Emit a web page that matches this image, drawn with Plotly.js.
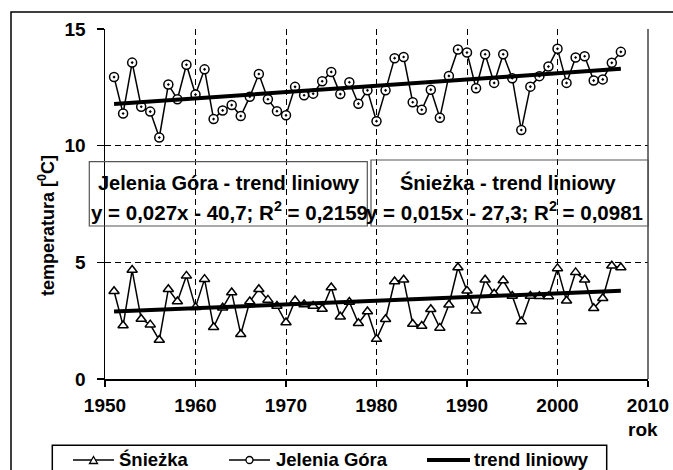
<!DOCTYPE html>
<html>
<head>
<meta charset="utf-8">
<script src="https://cdn.plot.ly/plotly-3.0.1.min.js"></script>
<style>html,body{margin:0;padding:0;background:#fff;}#chart{width:673px;height:470px;}</style>
</head>
<body>
<div id="chart"></div>
<script>
// ---- data ----
const years = [];
for (let y = 1951; y <= 2007; y++) years.push(y);
const jeleniaGora = [12.94, 11.38, 13.56, 11.67, 11.46, 10.35, 12.62, 11.99, 13.47, 12.19,
  13.27, 11.14, 11.51, 11.74, 11.27, 12.10, 13.07, 11.99, 11.48, 11.30,
  12.52, 12.16, 12.23, 12.76, 13.16, 12.21, 12.72, 11.80, 12.37, 11.05,
  12.37, 13.75, 13.80, 11.86, 11.54, 12.40, 11.20, 12.99, 14.12, 13.99,
  12.46, 13.92, 12.69, 13.92, 12.89, 10.67, 12.53, 12.98, 13.39, 14.15,
  12.69, 13.78, 13.83, 12.79, 12.84, 13.55, 14.02];
const sniezka = [3.76, 2.29, 4.67, 2.57, 2.33, 1.67, 3.85, 3.32, 4.42, 3.07,
  4.28, 2.22, 3.05, 3.71, 1.92, 3.32, 3.85, 3.39, 3.13, 2.42,
  3.36, 3.19, 3.13, 3.00, 3.92, 2.67, 3.30, 2.39, 2.89, 1.71,
  2.56, 4.18, 4.25, 2.36, 2.27, 2.99, 2.19, 3.18, 4.78, 3.78,
  2.92, 4.25, 3.65, 4.22, 3.56, 2.46, 3.56, 3.55, 3.54, 4.74,
  3.35, 4.57, 4.25, 3.03, 3.46, 4.85, 4.78];
const xTicks = [1950, 1960, 1970, 1980, 1990, 2000, 2010];
const yTicks = [0, 5, 10, 15];
const seriesNames = ['Śnieżka', 'Jelenia Góra', 'trend liniowy'];
const trendLabelJG = ['Jelenia Góra - trend liniowy', 'y = 0,027x - 40,7; R<sup>2</sup> = 0,2159'];
const trendLabelSN = ['Śnieżka - trend liniowy', 'y = 0,015x - 27,3; R<sup>2</sup> = 0,0981'];

// least-squares linear trend (as the spreadsheet trend line)
function linTrend(xs, ys) {
  const n = xs.length;
  const mx = xs.reduce((a, b) => a + b, 0) / n;
  const my = ys.reduce((a, b) => a + b, 0) / n;
  let sxy = 0, sxx = 0;
  for (let i = 0; i < n; i++) { sxy += (xs[i] - mx) * (ys[i] - my); sxx += (xs[i] - mx) ** 2; }
  const b = sxy / sxx, a = my - b * mx;
  return xs.map(x => a + b * x);
}

// ---- layout geometry ----
const L = 105, T = 29, W = 543, H = 350;
const px = x => (x - L) / W;
const py = y => (T + H - y) / H;
const FONT = 'Liberation Sans, Arial, sans-serif';
const bold = (s) => ({family: FONT, size: s, color: '#000', weight: 'bold'});

const traces = [
  {x: years, y: sniezka, mode: 'lines+markers', name: seriesNames[0],
   line: {color: '#000', width: 1.5},
   marker: {symbol: 'triangle-up', size: 9, color: '#fff', line: {color: '#000', width: 1.5}}},
  {x: years, y: jeleniaGora, mode: 'lines+markers', name: seriesNames[1],
   line: {color: '#000', width: 1.5},
   marker: {symbol: 'circle-dot', size: 9, color: '#fff', line: {color: '#000', width: 1.5}}},
  {x: years, y: linTrend(years, jeleniaGora), mode: 'lines', name: seriesNames[2],
   line: {color: '#000', width: 4}},
  {x: years, y: linTrend(years, sniezka), mode: 'lines', name: seriesNames[2],
   line: {color: '#000', width: 4}}
];

const shapes = [
  // outer chart frame
  {type: 'rect', xref: 'paper', yref: 'paper', x0: px(11), x1: px(720), y0: py(12), y1: py(520),
   line: {color: '#000', width: 1.5}},
  // plot-area right border
  {type: 'line', xref: 'paper', yref: 'paper', x0: 1, x1: 1, y0: 0, y1: 1,
   line: {color: '#444', width: 1.5}},
  // trend label boxes
  {type: 'rect', xref: 'paper', yref: 'paper', x0: px(89.3), x1: px(367.3), y0: py(161.7), y1: py(226),
   line: {color: '#555', width: 1.2}},
  {type: 'rect', xref: 'paper', yref: 'paper', x0: px(371), x1: px(648.3), y0: py(160), y1: py(226),
   line: {color: '#555', width: 1.2}},
  // legend box
  {type: 'rect', xref: 'paper', yref: 'paper', x0: px(52.3), x1: px(606.7), y0: py(445.3), y1: py(520),
   line: {color: '#000', width: 1.5}},
  // legend symbols
  {type: 'line', xref: 'paper', yref: 'paper', x0: px(73), x1: px(114), y0: py(460), y1: py(460),
   line: {color: '#000', width: 1.5}},
  {type: 'path', xref: 'paper', yref: 'paper',
   path: `M ${px(89.5)} ${py(463.5)} L ${px(97.5)} ${py(463.5)} L ${px(93.5)} ${py(456.5)} Z`,
   fillcolor: '#fff', line: {color: '#000', width: 1.3}},
  {type: 'line', xref: 'paper', yref: 'paper', x0: px(229), x1: px(270), y0: py(460), y1: py(460),
   line: {color: '#000', width: 1.5}},
  {type: 'circle', xref: 'paper', yref: 'paper', x0: px(246), x1: px(253), y0: py(456.5), y1: py(463.5),
   fillcolor: '#fff', line: {color: '#000', width: 1.3}},
  {type: 'line', xref: 'paper', yref: 'paper', x0: px(427), x1: px(470), y0: py(460), y1: py(460),
   line: {color: '#000', width: 4}}
];

const ann = (x, y, text, size, extra) => Object.assign({
  xref: 'paper', yref: 'paper', x: px(x), y: py(y), text: text, showarrow: false,
  font: bold(size), xanchor: 'center', yanchor: 'middle'}, extra || {});

const annotations = [
  ann(228.6, 183, trendLabelJG[0], 20),
  ann(229.5, 211, trendLabelJG[1], 20.5),
  ann(507.5, 183, trendLabelSN[0], 20),
  ann(504.5, 211, trendLabelSN[1], 20.5),
  ann(46, 226, 'temperatura [<sup>0</sup>C]', 18, {textangle: -90}),
  ann(660, 429, 'rok', 19, {xanchor: 'right'}),
  ann(117, 460, seriesNames[0], 18.5, {xanchor: 'left'}),
  ann(274, 460, seriesNames[1], 18.5, {xanchor: 'left'}),
  ann(472, 460, seriesNames[2], 18.5, {xanchor: 'left'})
];

const layout = {
  width: 673, height: 470,
  margin: {l: L, r: 673 - L - W, t: T, b: 470 - T - H, autoexpand: false},
  paper_bgcolor: '#fff', plot_bgcolor: '#fff',
  showlegend: false,
  xaxis: {range: [1950, 2010], tickvals: xTicks, ticktext: xTicks.map(String),
    showgrid: true, gridcolor: '#000', gridwidth: 1, griddash: '6px,4px',
    showline: true, linecolor: '#000', linewidth: 1.5, zeroline: false,
    ticks: 'outside', ticklen: 6, tickcolor: '#000', tickwidth: 1.5,
    ticklabelstandoff: 3, tickfont: bold(19)},
  yaxis: {range: [0, 15], tickvals: yTicks, ticktext: yTicks.map(String),
    showgrid: true, gridcolor: '#000', gridwidth: 1, griddash: '6px,4px',
    showline: true, linecolor: '#000', linewidth: 1.5, zeroline: false,
    ticks: 'outside', ticklen: 7, tickcolor: '#000', tickwidth: 1.5,
    ticklabelstandoff: 7, tickfont: bold(19)},
  shapes: shapes,
  annotations: annotations
};

Plotly.newPlot('chart', traces, layout, {staticPlot: true, displayModeBar: false});
</script>
</body>
</html>
